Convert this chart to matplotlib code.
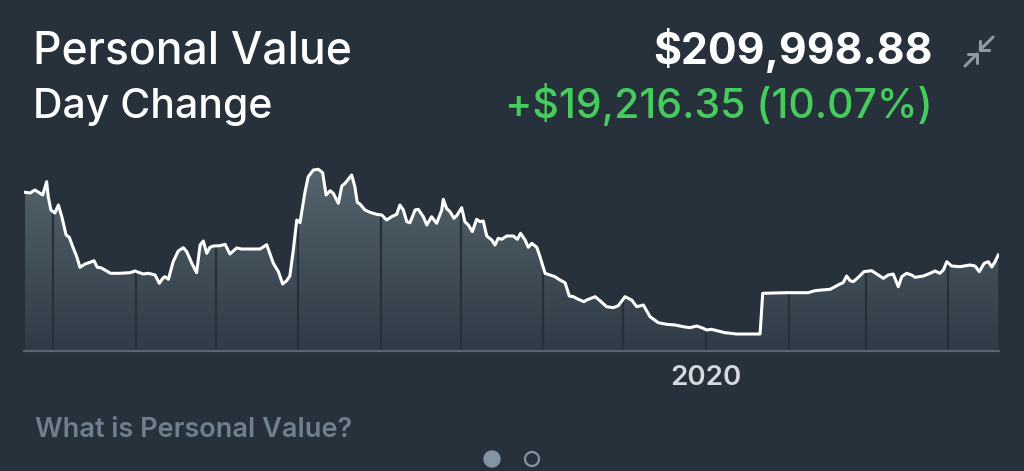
import numpy as np
import pandas as pd
import matplotlib
matplotlib.use("Agg")
import matplotlib.pyplot as plt
from matplotlib.colors import LinearSegmentedColormap
from matplotlib.lines import Line2D
from matplotlib.patches import Ellipse

plt.rcParams["font.family"] = ["Inter", "DejaVu Sans"]

# one year of portfolio value, days counted from START, values in $k
START = pd.Timestamp("2019-04-20")
days = [
    0.4, 2.3, 4.1, 5.3, 7.0, 8.5, 9.1, 10.1, 11.6, 12.9, 14.2, 15.8, 17.0, 18.3,
    19.8, 21.0, 22.9, 24.8, 26.3, 27.5, 28.8, 30.4, 32.5, 36.0, 39.8, 41.7, 42.9,
    44.8, 46.7, 49.2, 50.8, 52.1, 52.9, 54.2, 56.0, 57.9, 59.8, 61.1, 63.0, 64.8,
    66.1, 67.3, 68.6, 69.8, 71.1, 73.6, 75.5, 77.3, 79.8, 81.7, 88.6, 91.1, 93.6,
    95.5, 97.1, 98.6, 99.8, 101.1, 102.4, 103.6, 105.5, 106.7, 108.6, 110.5,
    112.1, 113.4, 114.9, 116.1, 118.0, 119.3, 120.5, 123.0, 124.2, 125.1, 126.1,
    128.0, 129.9, 132.4, 134.3, 136.1, 138.0, 139.9, 141.1, 142.4, 143.7, 144.9,
    146.8, 148.0, 149.9, 151.2, 153.0, 154.9, 156.8, 157.4, 158.6, 159.9, 161.4,
    162.6, 164.3, 165.5, 166.8, 168.3, 169.9, 171.2, 172.4, 173.7, 175.6, 176.8,
    178.0, 179.3, 181.2, 183.7, 185.2, 186.4, 188.1, 189.3, 190.6, 192.5, 193.7,
    195.6, 197.4, 199.3, 201.2, 203.1, 204.7, 206.2, 208.1, 210.2, 211.2, 214.4,
    216.2, 218.7, 221.2, 223.1, 225.6, 228.1, 230.0, 232.5, 235.0, 238.1, 241.3,
    244.4, 247.5, 250.0, 252.5, 254.4, 256.3, 258.1, 260.6, 263.1, 267.5, 276.3,
    277.3, 286.3, 294.4, 296.9, 299.4, 302.6, 304.4, 306.3, 307.5, 308.8, 310.1,
    311.3, 313.2, 315.3, 318.2, 320.1, 322.6, 324.4, 326.3, 328.2, 329.5, 331.3,
    333.2, 334.5, 337.6, 340.1, 342.0, 343.8, 345.1, 346.4, 348.2, 351.4, 355.1,
    357.0, 358.6, 360.4, 362.0, 363.3, 364.5, 365.7,
]
value_k = [
    310.3, 309.2, 314.0, 310.8, 306.0, 327.3, 303.3, 282.0, 277.2, 290.0, 271.3,
    242.0, 238.3, 223.3, 207.3, 190.3, 195.6, 198.3, 200.9, 190.3, 189.7, 186.0,
    180.7, 180.7, 181.7, 184.4, 182.3, 179.6, 180.7, 178.0, 164.7, 172.7, 175.3,
    171.1, 199.3, 216.4, 221.7, 215.3, 196.7, 181.7, 226.0, 232.4, 212.7, 222.3,
    224.4, 224.9, 227.1, 211.6, 221.2, 219.6, 219.6, 226.5, 196.7, 183.3, 163.6,
    168.9, 176.4, 218.0, 266.0, 261.7, 311.3, 335.3, 346.0, 347.1, 341.7, 306.0,
    312.9, 308.7, 292.7, 320.4, 324.7, 338.0, 319.3, 294.3, 291.6, 282.0, 278.3,
    275.1, 274.0, 266.0, 271.3, 275.1, 290.0, 282.0, 263.3, 261.7, 282.0, 283.1,
    271.3, 258.0, 271.3, 260.7, 282.0, 299.1, 284.7, 279.3, 268.7, 274.0, 285.7,
    263.3, 258.0, 247.3, 267.1, 263.3, 264.4, 240.4, 234.0, 226.0, 236.7, 235.1,
    240.4, 240.4, 235.1, 244.7, 234.0, 222.3, 228.7, 222.3, 207.3, 180.7, 178.0,
    175.3, 170.0, 165.7, 144.4, 143.3, 139.1, 135.3, 138.0, 143.3, 136.9, 127.3,
    125.7, 128.9, 143.3, 138.0, 127.3, 130.0, 111.3, 101.7, 99.1, 98.0, 95.3,
    93.7, 96.4, 93.7, 90.0, 91.1, 88.4, 85.7, 83.6, 83.6, 148.7, 149.7, 149.7,
    152.9, 154.0, 155.1, 159.3, 163.6, 165.7, 176.4, 168.9, 167.3, 174.3, 183.3,
    184.9, 179.6, 172.7, 178.0, 179.6, 159.3, 175.3, 180.7, 178.0, 174.3, 176.4,
    180.7, 184.4, 180.7, 186.0, 199.3, 192.4, 191.3, 194.0, 192.4, 183.3, 196.7,
    199.3, 190.8, 199.3, 210.0,
]
month_starts = pd.date_range("2019-05-01", "2020-04-01", freq="MS")
year_label = "2020"

title = "Personal Value"
subtitle = "Day Change"
total_text = "$209,998.88"
change_text = "+$19,216.35 (10.07%)"
help_text = "What is Personal Value?"

BG = "#26313c"
ICON = "#8f99a4"
DOT = "#8394a4"
Y0, Y1 = 56.4, 362.0
X0, X1 = 0, 366


def fx(x):
    return x / 1024


def fy(y):
    return 1 - y / 471


fig = plt.figure(figsize=(10.24, 4.71), dpi=100, facecolor=BG)
ax = fig.add_axes([fx(24), fy(351), 975 / 1024, 191 / 471])
ax.set_facecolor(BG)
ax.set_xlim(X0, X1)
ax.set_ylim(Y0, Y1)
ax.axis("off")

area = ax.fill_between(days, value_k, Y0, color="none", lw=0)
clip = area.get_paths()[0]

cmap = LinearSegmentedColormap.from_list("fade", ["#2f3b46", "#57666f"])
grad = np.linspace(1, 0, 256).reshape(-1, 1)
im = ax.imshow(grad, extent=[X0, X1, Y0, Y1], aspect="auto", cmap=cmap,
               origin="upper", zorder=1)
im.set_clip_path(clip, ax.transData)

sep_days = (month_starts - START).days
seps = ax.vlines(sep_days, Y0, Y1, color="#25303a", lw=1.6, zorder=2)
seps.set_clip_path(clip, ax.transData)

ax.plot(days, value_k, color="white", lw=2.2, zorder=3, solid_joinstyle="round")
ax.axhline(Y0, xmin=0, xmax=1, color="#5a6570", lw=1.6, zorder=4, clip_on=False)

d2020 = (pd.Timestamp(year_label + "-01-01") - START).days
ax.text(d2020, -0.14, year_label, transform=ax.get_xaxis_transform(),
        ha="center", va="center", fontsize=20, color="#d5d9dd", fontweight="semibold")

fig.text(fx(33), fy(64), title, fontsize=32, color="white", va="baseline",
         fontweight="medium")
fig.text(fx(33), fy(118), subtitle, fontsize=29.5, color="white", va="baseline",
         fontweight="medium")
fig.text(fx(933), fy(64), total_text, fontsize=30.8, color="white", va="baseline",
         ha="right", fontweight="bold")
fig.text(fx(933), fy(118), change_text, fontsize=29.5, color="#46cc5c",
         va="baseline", ha="right", fontweight="medium")
fig.text(fx(35), fy(437), help_text, fontsize=19.5, color="#6f7f8d",
         va="baseline", fontweight="semibold")

# collapse icon: two arrows pointing inward
icon_lines = [
    ([993, 980], [37, 50]), ([980, 980], [41, 50]), ([980, 989], [50, 50]),
    ([965, 977], [66, 54]), ([977, 977], [63, 54]), ([977, 968], [54, 54]),
]
for xs, ys in icon_lines:
    fig.add_artist(Line2D([fx(v) for v in xs], [fy(v) for v in ys],
                          transform=fig.transFigure, color=ICON, lw=2.2,
                          solid_capstyle="round"))

fig.add_artist(Ellipse((fx(492), fy(459)), 16 / 1024, 16 / 471,
                       transform=fig.transFigure, color=DOT))
fig.add_artist(Ellipse((fx(532), fy(459)), 14 / 1024, 14 / 471,
                       transform=fig.transFigure, fill=False, ec=DOT, lw=1.6))

fig.savefig("out.png", dpi=100, facecolor=BG)
